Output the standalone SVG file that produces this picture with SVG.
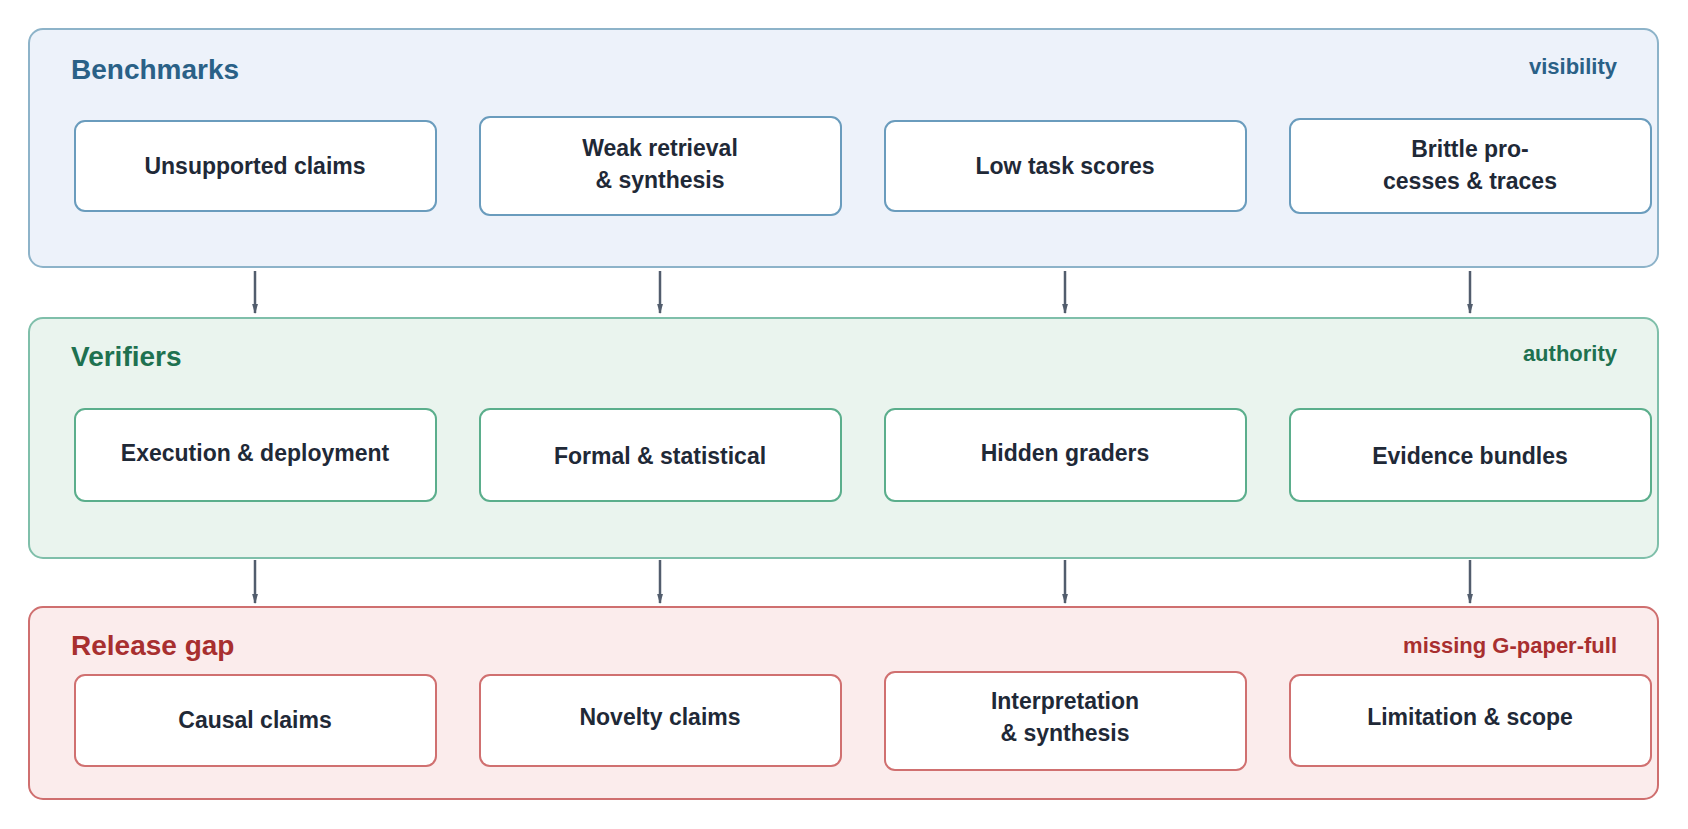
<svg xmlns="http://www.w3.org/2000/svg" width="1688" height="829" viewBox="0 0 1688 829">
<style>
text{font-family:"Liberation Sans",Arial,sans-serif;font-weight:bold}
.t{font-size:28px}.s{font-size:22px;text-anchor:end}
.n{font-size:23px;fill:#1f2937;text-anchor:middle}
.nb{fill:#fff;stroke:#6a9cbd;stroke-width:2}
.ng{fill:#fff;stroke:#5bae8c;stroke-width:2}
.nr{fill:#fff;stroke:#d07070;stroke-width:2}
.c{stroke:#525d6d;stroke-width:2.5;fill:none;marker-end:url(#a)}
</style>
<defs><marker id="a" markerWidth="10" markerHeight="10" refX="9" refY="5" orient="auto" markerUnits="userSpaceOnUse"><path d="M0,0 L10,5 L0,10 Z" fill="#525d6d" transform="scale(1.9,1.1) translate(-4.7,-0.5)"/></marker></defs>
<g id="benchmarks">
<rect x="29" y="29" width="1629" height="238" rx="14" fill="#edf2fa" stroke="#8db3c9" stroke-width="2"/>
<text class="t" x="71" y="79" fill="#2a6187">Benchmarks</text>
<text class="s" x="1617" y="74" fill="#2a6187">visibility</text>
</g>
<g id="verifiers">
<rect x="29" y="318" width="1629" height="240" rx="14" fill="#eaf4ee" stroke="#7fbfaa" stroke-width="2"/>
<text class="t" x="71" y="366" fill="#1e7150">Verifiers</text>
<text class="s" x="1617" y="361" fill="#1e7150">authority</text>
</g>
<g id="release">
<rect x="29" y="607" width="1629" height="192" rx="14" fill="#fbecec" stroke="#cf6f6f" stroke-width="2"/>
<text class="t" x="71" y="655" fill="#a82f2f">Release gap</text>
<text class="s" x="1617" y="653" fill="#a82f2f">missing G-paper-full</text>
</g>
<g id="n1"><rect class="nb" x="75" y="121" width="361" height="90" rx="10"/><text class="n" x="255" y="174">Unsupported claims</text></g>
<g id="n2"><rect class="nb" x="480" y="117" width="361" height="98" rx="10"/><text class="n" x="660" y="156">Weak retrieval</text><text class="n" x="660" y="188">&amp; synthesis</text></g>
<g id="n3"><rect class="nb" x="885" y="121" width="361" height="90" rx="10"/><text class="n" x="1065" y="174">Low task scores</text></g>
<g id="n4"><rect class="nb" x="1290" y="119" width="361" height="94" rx="10"/><text class="n" x="1470" y="157">Brittle pro-</text><text class="n" x="1470" y="189">cesses &amp; traces</text></g>
<g id="n5"><rect class="ng" x="75" y="409" width="361" height="92" rx="10"/><text class="n" x="255" y="461">Execution &amp; deployment</text></g>
<g id="n6"><rect class="ng" x="480" y="409" width="361" height="92" rx="10"/><text class="n" x="660" y="464">Formal &amp; statistical</text></g>
<g id="n7"><rect class="ng" x="885" y="409" width="361" height="92" rx="10"/><text class="n" x="1065" y="461">Hidden graders</text></g>
<g id="n8"><rect class="ng" x="1290" y="409" width="361" height="92" rx="10"/><text class="n" x="1470" y="464">Evidence bundles</text></g>
<g id="n9"><rect class="nr" x="75" y="675" width="361" height="91" rx="10"/><text class="n" x="255" y="728">Causal claims</text></g>
<g id="n10"><rect class="nr" x="480" y="675" width="361" height="91" rx="10"/><text class="n" x="660" y="725">Novelty claims</text></g>
<g id="n11"><rect class="nr" x="885" y="672" width="361" height="98" rx="10"/><text class="n" x="1065" y="709">Interpretation</text><text class="n" x="1065" y="741">&amp; synthesis</text></g>
<g id="n12"><rect class="nr" x="1290" y="675" width="361" height="91" rx="10"/><text class="n" x="1470" y="725">Limitation &amp; scope</text></g>
<g id="connectors">
<path class="c" d="M255 271V313"/><path class="c" d="M660 271V313"/><path class="c" d="M1065 271V313"/><path class="c" d="M1470 271V313"/>
<path class="c" d="M255 560V603"/><path class="c" d="M660 560V603"/><path class="c" d="M1065 560V603"/><path class="c" d="M1470 560V603"/>
</g>
</svg>
